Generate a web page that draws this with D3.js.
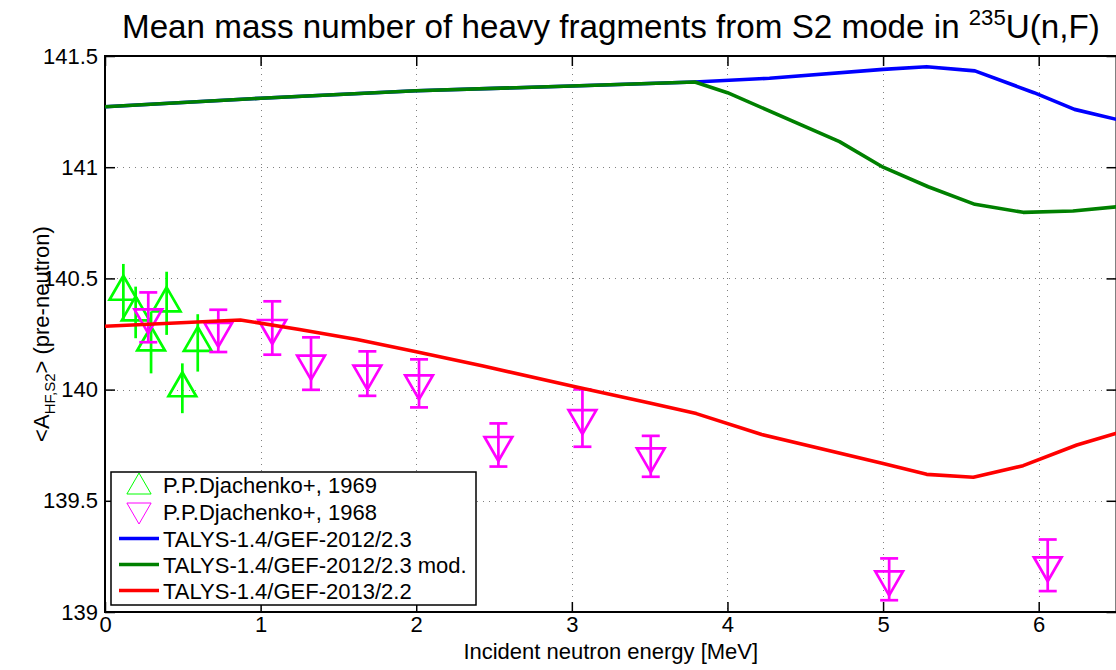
<!DOCTYPE html>
<html><head><meta charset="utf-8">
<script src="https://cdn.jsdelivr.net/npm/d3@7/dist/d3.min.js"></script>
<style>
body{margin:0;background:#fff}
text{font-family:"Liberation Sans",Arial,Helvetica,sans-serif;fill:#000}
</style>
</head><body>
<svg id="chart" width="1116" height="670"></svg>
<script>
// ---- data ----
const xTicks = [0, 1, 2, 3, 4, 5, 6];
const yTicks = [139, 139.5, 140, 140.5, 141, 141.5];
const yTickLabels = ["139", "139.5", "140", "140.5", "141", "141.5"];

// P.P.Djachenko+, 1969 (green up-triangles)
const dj1969E   = [0.118, 0.197, 0.296, 0.396, 0.497, 0.596];
const dj1969A   = [140.44, 140.347, 140.212, 140.388, 140.006, 140.21];
const dj1969Err = [0.125, 0.116, 0.139, 0.142, 0.112, 0.129];

// P.P.Djachenko+, 1968 (magenta down-triangles)
const dj1968E   = [0.278, 0.728, 1.075, 1.324, 1.686, 2.018, 2.528, 3.068, 3.507, 5.039, 6.058];
const dj1968A   = [140.325, 140.264, 140.277, 140.117, 140.072, 140.028, 139.751, 139.872, 139.70, 139.147, 139.21];
const dj1968Err = [0.112, 0.095, 0.12, 0.118, 0.10, 0.108, 0.097, 0.129, 0.092, 0.094, 0.116];

// TALYS-1.4/GEF-2012/2.3 (blue)
const blueE = [0, 1, 2, 3, 3.79, 4.27, 5.0, 5.28, 5.59, 5.97, 6.23, 6.5];
const blueA = [141.272, 141.31, 141.344, 141.365, 141.383, 141.40, 141.44, 141.452, 141.433, 141.335, 141.26, 141.215];

// TALYS-1.4/GEF-2012/2.3 mod. (green)
const greenE = [0, 1, 2, 3, 3.79, 4.0, 4.72, 5.0, 5.29, 5.59, 5.9, 6.22, 6.5];
const greenA = [141.272, 141.31, 141.344, 141.365, 141.383, 141.335, 141.115, 141.0, 140.912, 140.833, 140.797, 140.803, 140.822];

// TALYS-1.4/GEF-2013/2.2 (red)
const redE = [0, 0.87, 1.25, 1.62, 2.0, 2.43, 3.0, 3.5, 3.8, 4.22, 5.0, 5.28, 5.58, 5.9, 6.245, 6.5];
const redA = [140.285, 140.313, 140.27, 140.225, 140.17, 140.106, 140.016, 139.94, 139.892, 139.798, 139.668, 139.619, 139.606, 139.658, 139.751, 139.804];

const legendLabels = ["P.P.Djachenko+, 1969", "P.P.Djachenko+, 1968",
  "TALYS-1.4/GEF-2012/2.3", "TALYS-1.4/GEF-2012/2.3 mod.", "TALYS-1.4/GEF-2013/2.2"];

// ---- layout ----
const svg = d3.select("#chart");
const L = 105, R = 1116.5, T = 56, B = 612;
const x = d3.scaleLinear().domain([0, 6.5]).range([L, R]);
const y = d3.scaleLinear().domain([139, 141.5]).range([B, T]);
const FS = 22;

svg.append("rect").attr("width", 1116).attr("height", 670).attr("fill", "#fff");

svg.append("defs").append("clipPath").attr("id", "clip")
  .append("rect").attr("x", L).attr("y", T).attr("width", R - L).attr("height", B - T);

// grid
const grid = svg.append("g").attr("stroke", "#808080").attr("stroke-width", 1).attr("stroke-dasharray", "1,5");
grid.selectAll("line.v").data(xTicks.filter(d => d > 0)).join("line")
  .attr("x1", d => Math.round(x(d)) + 0.5).attr("x2", d => Math.round(x(d)) + 0.5)
  .attr("y1", T).attr("y2", B);
grid.selectAll("line.h").data(yTicks.filter(d => d > 139 && d < 141.5)).join("line")
  .attr("y1", d => Math.round(y(d)) + 0.5).attr("y2", d => Math.round(y(d)) + 0.5)
  .attr("x1", L).attr("x2", R);

// axes
function styleAxis(g) {
  g.select(".domain").remove();
  g.selectAll(".tick line").attr("stroke", "#000").attr("stroke-width", 1.5);
  g.selectAll(".tick text").attr("font-size", FS).attr("font-family", '"Liberation Sans",Arial,sans-serif').attr("fill", "#000");
}
svg.append("g").attr("transform", `translate(0,${B})`)
  .call(d3.axisBottom(x).tickValues(xTicks).tickSize(-10).tickSizeOuter(0).tickPadding(4).tickFormat(d3.format("d")))
  .call(styleAxis);
svg.append("g").attr("transform", `translate(0,${T})`)
  .call(d3.axisTop(x).tickValues(xTicks).tickSize(-10).tickSizeOuter(0).tickFormat(""))
  .call(styleAxis);
svg.append("g").attr("transform", `translate(${L},0)`)
  .call(d3.axisLeft(y).tickValues(yTicks).tickSize(-10).tickSizeOuter(0).tickPadding(7)
    .tickFormat((d, i) => yTickLabels[i]))
  .call(styleAxis);
svg.append("g").attr("transform", `translate(${R},0)`)
  .call(d3.axisRight(y).tickValues(yTicks).tickSize(-10).tickSizeOuter(0).tickFormat(""))
  .call(styleAxis);

// box
svg.append("rect").attr("x", L).attr("y", T).attr("width", R - L).attr("height", B - T)
  .attr("fill", "none").attr("stroke", "#000").attr("stroke-width", 2);

const plot = svg.append("g").attr("clip-path", "url(#clip)");

const tri = (r, up) => up
  ? `M0,${-r}L${0.866 * r},${0.5 * r}L${-0.866 * r},${0.5 * r}Z`
  : `M0,${r}L${0.866 * r},${-0.5 * r}L${-0.866 * r},${-0.5 * r}Z`;

function drawSeries(E, A, Err, color, up, cap) {
  const g = plot.append("g").attr("stroke", color).attr("fill", "none").attr("stroke-width", 2.7);
  const pts = E.map((e, i) => ({ e, a: A[i], err: Err[i] }));
  g.selectAll("line.eb").data(pts).join("line")
    .attr("x1", d => x(d.e)).attr("x2", d => x(d.e))
    .attr("y1", d => y(d.a - d.err)).attr("y2", d => y(d.a + d.err));
  if (cap > 0) {
    g.selectAll("line.ct").data(pts).join("line")
      .attr("x1", d => x(d.e) - cap / 2).attr("x2", d => x(d.e) + cap / 2)
      .attr("y1", d => y(d.a + d.err)).attr("y2", d => y(d.a + d.err));
    g.selectAll("line.cb").data(pts).join("line")
      .attr("x1", d => x(d.e) - cap / 2).attr("x2", d => x(d.e) + cap / 2)
      .attr("y1", d => y(d.a - d.err)).attr("y2", d => y(d.a - d.err));
  }
  g.selectAll("path").data(pts).join("path")
    .attr("transform", d => `translate(${x(d.e)},${y(d.a)})`)
    .attr("d", tri(16, up));
}
drawSeries(dj1969E, dj1969A, dj1969Err, "#00ff00", true, 0);
drawSeries(dj1968E, dj1968A, dj1968Err, "#ff00ff", false, 18);

const line = d3.line().x(d => x(d[0])).y(d => y(d[1]));
[[blueE, blueA, "#0000ff"], [greenE, greenA, "#008000"], [redE, redA, "#ff0000"]].forEach(([E, A, c]) => {
  plot.append("path").datum(E.map((e, i) => [e, A[i]]))
    .attr("d", line).attr("fill", "none").attr("stroke", c).attr("stroke-width", 3.6)
    .attr("stroke-linejoin", "round");
});

// legend
const lg = svg.append("g");
lg.append("rect").attr("x", 111).attr("y", 472).attr("width", 365).attr("height", 133)
  .attr("fill", "#fff").attr("stroke", "#000").attr("stroke-width", 1.5);
const rows = [485, 512, 538.5, 564.5, 590.5];
const legColors = ["#00ff00", "#ff00ff", "#0000ff", "#008000", "#ff0000"];
rows.forEach((ry, i) => {
  if (i < 2) {
    lg.append("path").attr("transform", `translate(139,${ry + (i === 0 ? 2 : -2)})`)
      .attr("d", tri(14, i === 0)).attr("fill", "none").attr("stroke", legColors[i]).attr("stroke-width", 1);
  } else {
    lg.append("line").attr("x1", 119).attr("x2", 159).attr("y1", ry).attr("y2", ry)
      .attr("stroke", legColors[i]).attr("stroke-width", 3.5);
  }
  lg.append("text").attr("x", 163).attr("y", ry + 8).attr("font-size", FS).text(legendLabels[i]);
});

// title
const title = svg.append("text").attr("x", 0).attr("y", 0).attr("font-size", 33);
title.append("tspan").text("Mean mass number of heavy fragments from S2 mode in ");
title.append("tspan").attr("font-size", 22).attr("dy", -13).text("235");
title.append("tspan").attr("dy", 13).text("U(n,F)");
const tw = title.node().getBBox().width;
title.attr("transform", `translate(122,38) scale(${978 / tw},1)`);

// axis labels
svg.append("text").attr("x", (L + R) / 2).attr("y", 659).attr("text-anchor", "middle")
  .attr("font-size", FS).text("Incident neutron energy [MeV]");

const yl = svg.append("text").attr("transform", `translate(49,${(T + B) / 2}) rotate(-90)`)
  .attr("text-anchor", "middle").attr("font-size", FS);
yl.append("tspan").text("<A");
yl.append("tspan").attr("font-size", 15).attr("dy", 6).text("HF,S2");
yl.append("tspan").attr("dy", -6).text(">");
yl.append("tspan").text(" (pre-neutron)");
</script>
</body></html>
